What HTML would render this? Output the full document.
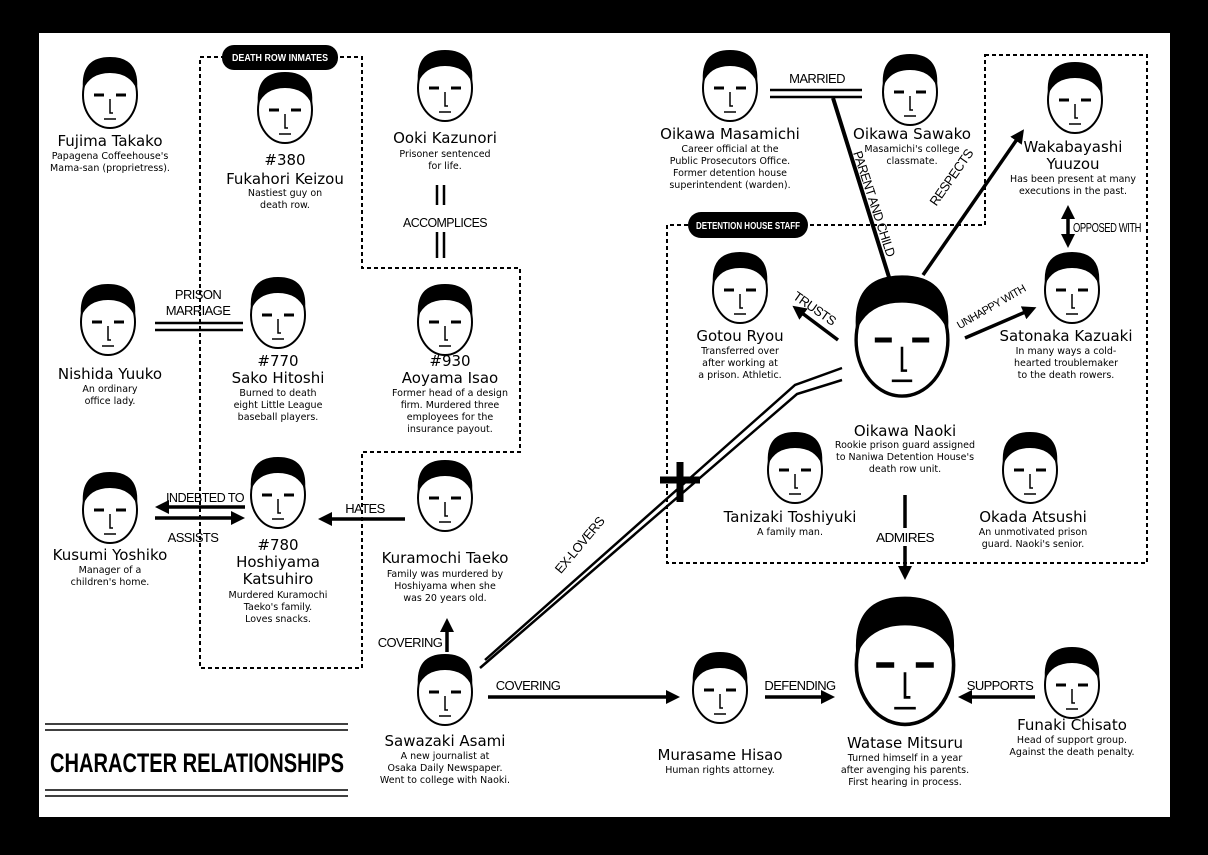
<!DOCTYPE html>
<html><head><meta charset="utf-8"><style>
html,body{margin:0;padding:0;background:#000;}
svg{display:block}
.n{font-family:"DejaVu Sans","Liberation Sans",sans-serif;font-size:15px;text-anchor:middle;fill:#000}
.d{font-family:"DejaVu Sans","Liberation Sans",sans-serif;font-size:9.5px;text-anchor:middle;fill:#000}
.l{font-family:"Liberation Sans Narrow","Liberation Sans",sans-serif;font-size:13px;text-anchor:middle;fill:#000;letter-spacing:-0.6px}
.p{font-family:"Liberation Sans Narrow","Liberation Sans",sans-serif;font-size:10.5px;font-weight:bold;text-anchor:middle;fill:#fff}
</style></head><body>
<svg width="1208" height="855" viewBox="0 0 1208 855" xmlns="http://www.w3.org/2000/svg">
<defs>
<marker id="a" markerWidth="4" markerHeight="4" refX="2" refY="2" orient="auto" markerUnits="strokeWidth"><path d="M0,0 L4,2 L0,4 z" fill="#000"/></marker>
<g id="f">
<ellipse cx="0" cy="0" rx="27" ry="33" fill="#fff" stroke="#000" stroke-width="2"/>
<path d="M-27,-5 Q-30,-38 0,-38 Q30,-38 27,-5 Q20,-22 0,-22 Q-20,-22 -27,-5z" fill="#000"/>
<path d="M-16,0 h10 M6,0 h10" stroke="#000" stroke-width="3"/>
<path d="M0,4 v14 h3 M-6,24 h12" stroke="#000" stroke-width="1.5" fill="none"/>
</g>
</defs>
<rect x="39" y="33" width="1131" height="784" fill="#fff"/>
<g fill="none" stroke="#000" stroke-width="2" stroke-dasharray="4,3">
<path d="M200,57 H362 V268 H520 V452 H362 V668 H200 Z"/>
<path d="M985,55 H1147 V563 H667 V225 H985 Z"/>
</g>
<rect x="222" y="45" width="116" height="25" rx="12" fill="#000"/><text class="p" x="280" y="61" textLength="96" lengthAdjust="spacingAndGlyphs">DEATH ROW INMATES</text>
<rect x="688" y="212" width="120" height="26" rx="13" fill="#000"/><text class="p" x="748" y="229" textLength="104" lengthAdjust="spacingAndGlyphs">DETENTION HOUSE STAFF</text>

<!-- faces -->
<use href="#f" x="110" y="95"/><use href="#f" x="285" y="110"/><use href="#f" x="445" y="88"/>
<use href="#f" x="108" y="322"/><use href="#f" x="278" y="315"/><use href="#f" x="445" y="322"/>
<use href="#f" x="110" y="510"/><use href="#f" x="278" y="495"/><use href="#f" x="445" y="498"/>
<use href="#f" x="445" y="692"/><use href="#f" x="720" y="690"/><use href="#f" x="1072" y="685"/>
<use href="#f" x="730" y="88"/><use href="#f" x="910" y="92"/><use href="#f" x="1075" y="100"/>
<use href="#f" x="740" y="290"/><use href="#f" x="1072" y="290"/><use href="#f" x="795" y="470"/><use href="#f" x="1030" y="470"/>
<g transform="translate(902,340) scale(1.7)"><use href="#f"/></g>
<g transform="translate(905,665) scale(1.8)"><use href="#f"/></g>

<!-- names -->
<text class="n" x="110" y="146">Fujima Takako</text><text class="d" x="110" y="159">Papagena Coffeehouse's</text><text class="d" x="110" y="171">Mama-san (proprietress).</text>
<text class="n" x="285" y="165">#380</text><text class="n" x="285" y="184">Fukahori Keizou</text><text class="d" x="285" y="196">Nastiest guy on</text><text class="d" x="285" y="208">death row.</text>
<text class="n" x="445" y="143">Ooki Kazunori</text><text class="d" x="445" y="157">Prisoner sentenced</text><text class="d" x="445" y="169">for life.</text>
<text class="n" x="110" y="379">Nishida Yuuko</text><text class="d" x="110" y="392">An ordinary</text><text class="d" x="110" y="404">office lady.</text>
<text class="n" x="278" y="366">#770</text><text class="n" x="278" y="383">Sako Hitoshi</text><text class="d" x="278" y="396">Burned to death</text><text class="d" x="278" y="408">eight Little League</text><text class="d" x="278" y="420">baseball players.</text>
<text class="n" x="450" y="366">#930</text><text class="n" x="450" y="383">Aoyama Isao</text><text class="d" x="450" y="396">Former head of a design</text><text class="d" x="450" y="408">firm. Murdered three</text><text class="d" x="450" y="420">employees for the</text><text class="d" x="450" y="432">insurance payout.</text>
<text class="n" x="110" y="560">Kusumi Yoshiko</text><text class="d" x="110" y="573">Manager of a</text><text class="d" x="110" y="585">children's home.</text>
<text class="n" x="278" y="550">#780</text><text class="n" x="278" y="567">Hoshiyama</text><text class="n" x="278" y="584">Katsuhiro</text><text class="d" x="278" y="598">Murdered Kuramochi</text><text class="d" x="278" y="610">Taeko's family.</text><text class="d" x="278" y="622">Loves snacks.</text>
<text class="n" x="445" y="563">Kuramochi Taeko</text><text class="d" x="445" y="577">Family was murdered by</text><text class="d" x="445" y="589">Hoshiyama when she</text><text class="d" x="445" y="601">was 20 years old.</text>
<text class="n" x="445" y="746">Sawazaki Asami</text><text class="d" x="445" y="759">A new journalist at</text><text class="d" x="445" y="771">Osaka Daily Newspaper.</text><text class="d" x="445" y="783">Went to college with Naoki.</text>
<text class="n" x="720" y="760">Murasame Hisao</text><text class="d" x="720" y="773">Human rights attorney.</text>
<text class="n" x="905" y="748">Watase Mitsuru</text><text class="d" x="905" y="761">Turned himself in a year</text><text class="d" x="905" y="773">after avenging his parents.</text><text class="d" x="905" y="785">First hearing in process.</text>
<text class="n" x="1072" y="730">Funaki Chisato</text><text class="d" x="1072" y="743">Head of support group.</text><text class="d" x="1072" y="755">Against the death penalty.</text>
<text class="n" x="730" y="139">Oikawa Masamichi</text><text class="d" x="730" y="152">Career official at the</text><text class="d" x="730" y="164">Public Prosecutors Office.</text><text class="d" x="730" y="176">Former detention house</text><text class="d" x="730" y="188">superintendent (warden).</text>
<text class="n" x="912" y="139" textLength="118" lengthAdjust="spacingAndGlyphs">Oikawa Sawako</text><text class="d" x="912" y="152">Masamichi's college</text><text class="d" x="912" y="164">classmate.</text>
<text class="n" x="1073" y="152">Wakabayashi</text><text class="n" x="1073" y="169">Yuuzou</text><text class="d" x="1073" y="182">Has been present at many</text><text class="d" x="1073" y="194">executions in the past.</text>
<text class="n" x="740" y="341">Gotou Ryou</text><text class="d" x="740" y="354">Transferred over</text><text class="d" x="740" y="366">after working at</text><text class="d" x="740" y="378">a prison. Athletic.</text>
<text class="n" x="1066" y="341">Satonaka Kazuaki</text><text class="d" x="1066" y="354">In many ways a cold-</text><text class="d" x="1066" y="366">hearted troublemaker</text><text class="d" x="1066" y="378">to the death rowers.</text>
<text class="n" x="905" y="436">Oikawa Naoki</text><text class="d" x="905" y="448">Rookie prison guard assigned</text><text class="d" x="905" y="460">to Naniwa Detention House's</text><text class="d" x="905" y="472">death row unit.</text>
<text class="n" x="790" y="522">Tanizaki Toshiyuki</text><text class="d" x="790" y="535">A family man.</text>
<text class="n" x="1033" y="522">Okada Atsushi</text><text class="d" x="1033" y="535">An unmotivated prison</text><text class="d" x="1033" y="547">guard. Naoki's senior.</text>

<!-- connectors -->
<g stroke="#000" stroke-width="2.5" fill="none">
<path d="M437,185 v20 M444,185 v20 M437,232 v26 M444,232 v26"/>
<path d="M155,323 h88 M155,330 h88"/>
<path d="M770,90 h92 M770,97 h92"/>
<path d="M833,98 L893,290" stroke-width="4"/>
<path d="M485,660 L795,385 L842,368 M480,668 L797,394 L842,380"/>
<path d="M660,480 h40 M680,462 v40" stroke-width="7"/>
</g>
<g stroke="#000" stroke-width="3.5" fill="none" marker-end="url(#a)">
<path d="M245,507 H162"/><path d="M155,518 H238"/><path d="M405,519 H325"/>
<path d="M447,652 V625"/><path d="M488,697 H673"/><path d="M765,697 H828"/><path d="M1035,697 H965"/>
<path d="M923,275 L1020,135"/><path d="M838,340 L798,310"/><path d="M965,338 L1030,310"/>
<path d="M905,495 V573"/><path d="M1068,226 V212"/><path d="M1068,226 V241"/>
</g>
<!-- labels -->
<text class="l" x="198" y="299">PRISON</text><text class="l" x="198" y="315">MARRIAGE</text>
<text class="l" x="445" y="227" textLength="84" lengthAdjust="spacingAndGlyphs">ACCOMPLICES</text>
<text class="l" x="205" y="502" textLength="78" lengthAdjust="spacingAndGlyphs">INDEBTED TO</text><text class="l" x="193" y="542">ASSISTS</text>
<text class="l" x="365" y="513">HATES</text><text class="l" x="410" y="647">COVERING</text>
<text class="l" x="528" y="690">COVERING</text><text class="l" x="800" y="690">DEFENDING</text><text class="l" x="1000" y="690">SUPPORTS</text>
<text class="l" x="817" y="83">MARRIED</text><text class="l" x="905" y="542" textLength="58" lengthAdjust="spacingAndGlyphs" style="fill:#000">ADMIRES</text><text class="l" x="1107" y="232" textLength="68" lengthAdjust="spacingAndGlyphs">OPPOSED WITH</text>
<rect x="874" y="528" width="62" height="18" fill="#fff"/><text class="l" x="905" y="542" textLength="58" lengthAdjust="spacingAndGlyphs">ADMIRES</text>
<text class="l" transform="translate(870,205) rotate(72)" textLength="110" lengthAdjust="spacingAndGlyphs">PARENT AND CHILD</text>
<text class="l" transform="translate(955,180) rotate(-55)">RESPECTS</text>
<text class="l" transform="translate(812,312) rotate(35)">TRUSTS</text>
<text class="l" transform="translate(993,310) rotate(-30)" style="font-size:11px">UNHAPPY WITH</text>
<text class="l" transform="translate(583,548) rotate(-50)">EX-LOVERS</text>
<g stroke="#000" stroke-width="1.5"><path d="M45,724 H348 M45,730 H348 M45,790 H348 M45,796 H348"/></g>
<text x="50" y="772" style="font-family:'Liberation Sans',sans-serif;font-weight:bold;font-size:27px" textLength="294" lengthAdjust="spacingAndGlyphs">CHARACTER RELATIONSHIPS</text>
</svg>
</body></html>
